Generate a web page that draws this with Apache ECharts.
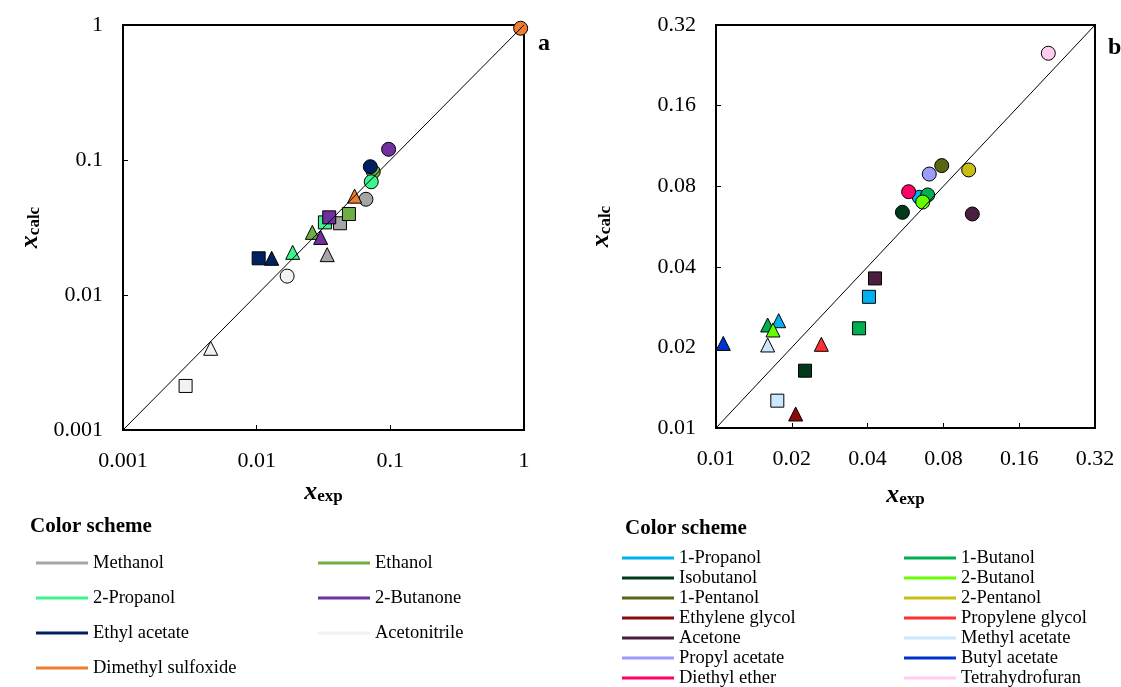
<!DOCTYPE html>
<html>
<head>
<meta charset="utf-8">
<script src="https://cdn.jsdelivr.net/npm/echarts@6/dist/echarts.min.js"></script>
<style>html,body{margin:0;padding:0;background:#fff;}#c{width:1121px;height:687px;}</style>
</head>
<body>
<div id="c"></div>
<script>
// ---------- Panel a data ----------
const solventsA = ['Methanol','Ethanol','2-Propanol','2-Butanone','Ethyl acetate','Acetonitrile','Dimethyl sulfoxide'];
const colorsA = ['#A5A5A5','#70AD47','#3CF58E','#7030A0','#002060','#F2F2F2','#ED7D31'];
const aCircleExp  = [0.0657, 0.0745, 0.072,  0.0971, 0.0708,  0.0169,  0.944];
const aCircleCalc = [0.0512, 0.0819, 0.069,  0.120,  0.0892,  0.0138,  0.946];
const aSquareExp  = [0.042,  0.049,  0.0324, 0.0349, 0.01035, 0.00294, null];
const aSquareCalc = [0.034,  0.0398, 0.0345, 0.0376, 0.0187,  0.00212, null];
const aTriExp     = [0.0337, 0.0261, 0.0186, 0.0301, 0.01295, 0.00453, 0.054];
const aTriCalc    = [0.0199, 0.0291, 0.0207, 0.0267, 0.0187,  0.00403, 0.054];
const aTicks = [0.001, 0.01, 0.1, 1];

// ---------- Panel b data ----------
const solventsB = ['1-Propanol','1-Butanol','Isobutanol','2-Butanol','1-Pentanol','2-Pentanol','Ethylene glycol','Propylene glycol','Acetone','Methyl acetate','Propyl acetate','Butyl acetate','Diethyl ether','Tetrahydrofuran'];
const colorsB = ['#00B0F0','#00B050','#003A1A','#66FF00','#5A6612','#C8BE14','#8B0A0A','#FF3030','#4A1E3E','#CCE8FF','#9C9CFF','#0033CC','#FF0066','#FFCCF0'];
const bCircleExp  = [0.0642, 0.0693, 0.055,   0.0662,  0.0788, 0.1008, null,    null,    0.1042, null,    0.0703, null,    0.0582, 0.2088];
const bCircleCalc = [0.0727, 0.0742, 0.0639,  0.0698,  0.0955, 0.092,  null,    null,    0.063,  null,    0.0888, null,    0.0763, 0.251];
const bSquareExp  = [0.0405, 0.037,  0.02257, null,    null,   null,   null,    null,    0.0428, 0.01752, null,  null,    null,   null];
const bSquareCalc = [0.0309, 0.02357,0.01637, null,    null,   null,   null,    null,    0.0362, 0.01265, null,  null,    null,   null];
const bTriExp     = [0.01774,0.01604,null,    0.01684, null,   null,   0.02072, 0.0262,  null,   0.01604, null,   0.01069, null,   null];
const bTriCalc    = [0.02516,0.02425,null,    0.02323, null,   null,   0.01128, 0.02054, null,   0.02042, null,   0.0207,  null,   null];
const bTicks = [0.01, 0.02, 0.04, 0.08, 0.16, 0.32];

// ---------- helpers ----------
const FONT = '"Liberation Serif", "Times New Roman", serif';
const toB = v => Math.log2(v / bTicks[0]);   // log2 scale for panel b
const fromB = t => bTicks[0] * Math.pow(2, t);

const shapes = [
  {sym: 'circle', size: 14},
  {sym: 'rect', size: 13},
  {sym: 'triangle', size: 14}
];

function buildSeries(names, colors, arrs, xIdx, tf) {
  return names.map((name, i) => {
    const data = [];
    arrs.forEach((pair, k) => {
      const x = pair[0][i], y = pair[1][i];
      if (x != null && y != null) {
        data.push({value: [tf(x), tf(y)], symbol: shapes[k].sym, symbolSize: shapes[k].size});
      }
    });
    return {
      name: name, type: 'scatter', xAxisIndex: xIdx, yAxisIndex: xIdx,
      data: data,
      itemStyle: {color: colors[i], borderColor: '#000', borderWidth: 1, opacity: 1},
      emphasis: {disabled: true}, z: 3
    };
  });
}

const richName = () => ({
  rich: {
    i: {fontFamily: FONT, fontSize: 26, fontStyle: 'italic', fontWeight: 'bold', color: '#000', verticalAlign: 'top', lineHeight: 26},
    s: {fontFamily: FONT, fontSize: 17, fontWeight: 'bold', color: '#000', verticalAlign: 'bottom', lineHeight: 20}
  }
});

const axisCommon = {
  axisLine: {show: true, onZero: false, lineStyle: {color: '#000', width: 2}},
  axisTick: {show: true, inside: true, length: 5, lineStyle: {color: '#000', width: 1}},
  splitLine: {show: false},
  minorTick: {show: false},
  axisLabel: {fontFamily: FONT, fontSize: 22, color: '#000'},
  nameLocation: 'middle'
};

const seriesA = buildSeries(solventsA, colorsA,
  [[aCircleExp, aCircleCalc], [aSquareExp, aSquareCalc], [aTriExp, aTriCalc]], 0, v => v);
const seriesB = buildSeries(solventsB, colorsB,
  [[bCircleExp, bCircleCalc], [bSquareExp, bSquareCalc], [bTriExp, bTriCalc]], 1, toB);

const diagA = {type: 'line', xAxisIndex: 0, yAxisIndex: 0, symbol: 'none', silent: true, z: 5,
  data: [[aTicks[0], aTicks[0]], [aTicks[aTicks.length-1], aTicks[aTicks.length-1]]],
  lineStyle: {color: '#000', width: 1}};
const diagB = {type: 'line', xAxisIndex: 1, yAxisIndex: 1, symbol: 'none', silent: true, z: 5,
  data: [[toB(bTicks[0]), toB(bTicks[0])], [toB(bTicks[bTicks.length-1]), toB(bTicks[bTicks.length-1])]],
  lineStyle: {color: '#000', width: 1}};

const fmtB = v => String(Math.round(fromB(v) * 100) / 100);

const legendCommon = {
  orient: 'vertical', icon: 'rect', itemWidth: 52, itemHeight: 3, padding: 0,
  selectedMode: false, height: 200,
  itemStyle: {borderWidth: 0},
  textStyle: {fontFamily: FONT, fontSize: 18.5, color: '#000', lineHeight: 20}
};

const titleStyle = {fontFamily: FONT, fontSize: 21, fontWeight: 'bold', color: '#000'};

const option = {
  animation: false,
  backgroundColor: '#fff',
  title: [
    {text: 'a', left: 533, top: 27, textStyle: {fontFamily: FONT, fontSize: 24, fontWeight: 'bold', color: '#000'}},
    {text: 'b', left: 1103, top: 31, textStyle: {fontFamily: FONT, fontSize: 24, fontWeight: 'bold', color: '#000'}},
    {text: 'Color scheme', left: 30, top: 516, padding: 0, textStyle: titleStyle},
    {text: 'Color scheme', left: 625, top: 518, padding: 0, textStyle: titleStyle}
  ],
  grid: [
    {left: 123, top: 25, width: 401, height: 405, show: true, borderColor: '#000', borderWidth: 2, backgroundColor: 'transparent'},
    {left: 716, top: 25, width: 379, height: 403, show: true, borderColor: '#000', borderWidth: 2, backgroundColor: 'transparent'}
  ],
  xAxis: [
    Object.assign({}, axisCommon, {type: 'log', logBase: 10, gridIndex: 0, min: aTicks[0], max: aTicks[aTicks.length-1],
      name: '{i|x}{s|exp}', nameGap: 49, nameTextStyle: richName(),
      axisLabel: Object.assign({}, axisCommon.axisLabel, {margin: 20})}),
    Object.assign({}, axisCommon, {type: 'value', gridIndex: 1, min: 0, max: toB(bTicks[bTicks.length-1]), interval: 1,
      name: '{i|x}{s|exp}', nameGap: 54, nameTextStyle: richName(),
      axisLabel: Object.assign({}, axisCommon.axisLabel, {margin: 20, formatter: fmtB})})
  ],
  yAxis: [
    Object.assign({}, axisCommon, {type: 'log', logBase: 10, gridIndex: 0, min: aTicks[0], max: aTicks[aTicks.length-1],
      name: '{i|x}{s|calc}', nameGap: 80, nameTextStyle: richName(),
      axisLabel: Object.assign({}, axisCommon.axisLabel, {margin: 20})}),
    Object.assign({}, axisCommon, {type: 'value', gridIndex: 1, min: 0, max: toB(bTicks[bTicks.length-1]), interval: 1,
      name: '{i|x}{s|calc}', nameGap: 102, nameTextStyle: richName(),
      axisLabel: Object.assign({}, axisCommon.axisLabel, {margin: 20, formatter: fmtB})})
  ],
  legend: [
    Object.assign({}, legendCommon, {left: 36, top: 553, itemGap: 15, data: ['Methanol','2-Propanol','Ethyl acetate','Dimethyl sulfoxide']}),
    Object.assign({}, legendCommon, {left: 318, top: 553, itemGap: 15, data: ['Ethanol','2-Butanone','Acetonitrile']}),
    Object.assign({}, legendCommon, {left: 622, top: 548, itemGap: 0, data: solventsB.filter((n, i) => i % 2 === 0)}),
    Object.assign({}, legendCommon, {left: 904, top: 548, itemGap: 0, data: solventsB.filter((n, i) => i % 2 === 1)})
  ],
  series: seriesA.concat(seriesB, [diagA, diagB])
};

const chart = echarts.init(document.getElementById('c'), null, {renderer: 'canvas'});
chart.setOption(option);
</script>
</body>
</html>
